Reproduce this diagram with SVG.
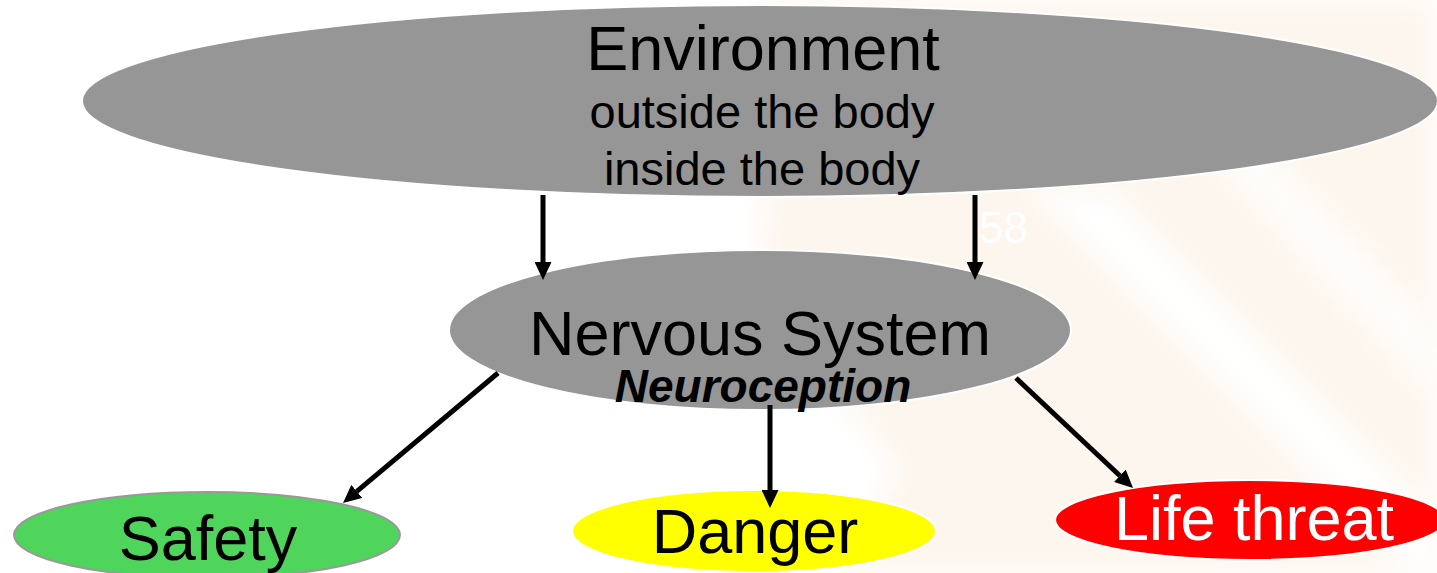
<svg xmlns="http://www.w3.org/2000/svg" width="1437" height="573" viewBox="0 0 1437 573">
  <defs>
    <marker id="arrow" markerUnits="userSpaceOnUse" viewBox="0 0 18 17" markerWidth="18" markerHeight="17" refX="0" refY="8.5" orient="auto">
      <path d="M0,0 L18,8.5 L0,17 z" fill="#000"/>
    </marker>
    <filter id="soft" x="-20%" y="-20%" width="140%" height="140%">
      <feGaussianBlur stdDeviation="14"/>
    </filter>
  </defs>
  <style>
    .txt { font-family: "Liberation Sans", Arial, sans-serif; text-anchor: middle; }
    .conn { stroke: #000; stroke-width: 5; fill: none; marker-end: url(#arrow); }
    .grey { fill: #969696; stroke: #ffffff; stroke-width: 2; }
  </style>
  <rect width="1437" height="573" fill="#ffffff"/>
  <g id="background">
    <path d="M770,0 L1437,0 L1437,573 L830,573 L900,470 L760,300 Z" fill="#fdf6ee" filter="url(#soft)"/>
    <path d="M1030,190 L1110,190 L1437,520 L1437,600 Z" fill="#ffffff" filter="url(#soft)"/>
    <path d="M1180,120 L1230,110 L1437,330 L1437,400 Z" fill="#ffffff" filter="url(#soft)" opacity="0.8"/>
  </g>
  <text x="979" y="243" font-family="Liberation Sans, Arial, sans-serif" font-size="44" fill="#ffffff">58</text>
  <g id="environment">
    <ellipse class="grey" cx="760" cy="101" rx="678" ry="96"/>
    <text class="txt" x="763" y="70" font-size="63">Environment</text>
    <text class="txt" x="762" y="128" font-size="47">outside the body</text>
    <text class="txt" x="762" y="185" font-size="47">inside the body</text>
  </g>
  <g id="nervous-system">
    <ellipse class="grey" cx="760" cy="330" rx="311" ry="80"/>
    <text class="txt" x="760" y="355" font-size="63">Nervous System</text>
    <text class="txt" x="763" y="402" font-size="46" font-weight="bold" font-style="italic">Neuroception</text>
  </g>
  <g id="safety">
    <ellipse cx="207" cy="535" rx="193" ry="43" fill="#4fd55b" stroke="#999999" stroke-width="2"/>
    <text class="txt" x="208" y="560" font-size="63">Safety</text>
  </g>
  <g id="danger">
    <ellipse cx="754" cy="531" rx="182" ry="41" fill="#ffff00" stroke="#ffffff" stroke-width="2"/>
    <text class="txt" x="755" y="553" font-size="63">Danger</text>
  </g>
  <g id="life-threat">
    <ellipse cx="1250" cy="520" rx="195" ry="40" fill="#ff0000" stroke="#ffffff" stroke-width="2"/>
    <text class="txt" x="1254" y="540" font-size="63" fill="#ffffff">Life threat</text>
  </g>
  <g id="connectors">
    <line class="conn" x1="543" y1="195" x2="543" y2="262"/>
    <line class="conn" x1="975" y1="195" x2="975" y2="262"/>
    <line class="conn" x1="498" y1="373" x2="356.8" y2="491.4"/>
    <line class="conn" x1="770" y1="405" x2="770" y2="490"/>
    <line class="conn" x1="1016" y1="378" x2="1119.9" y2="475.7"/>
  </g>
</svg>
